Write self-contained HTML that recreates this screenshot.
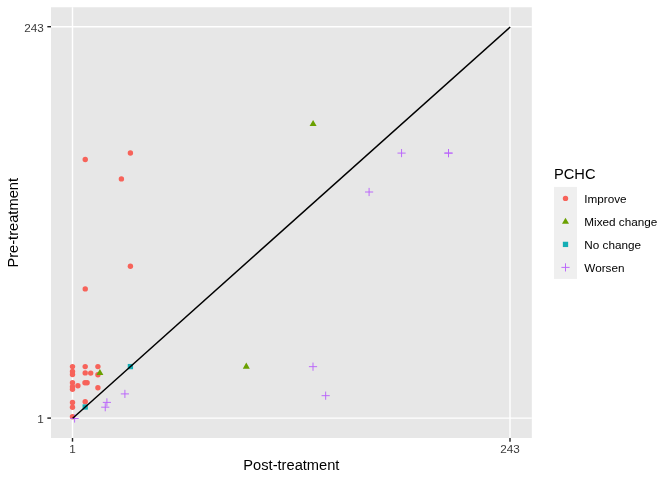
<!DOCTYPE html>
<html lang="en"><head><meta charset="utf-8"><title>Pre- vs Post-treatment</title>
<style>html,body{margin:0;padding:0;background:#fff}body{width:672px;height:480px;overflow:hidden}svg{display:block}text{font-family:"Liberation Sans",sans-serif}</style></head><body>
<svg width="672" height="480" viewBox="0 0 672 480">
<rect width="672" height="480" fill="#fff"/>
<rect x="51.0" y="7.25" width="480.80" height="430.75" fill="#E7E7E7"/>
<g stroke="#fff" stroke-width="1.42">
<line x1="51.0" x2="531.8" y1="418.1" y2="418.1"/><line x1="51.0" x2="531.8" y1="26.7" y2="26.7"/>
<line y1="7.25" y2="438.0" x1="72.5" x2="72.5"/><line y1="7.25" y2="438.0" x1="510.0" x2="510.0"/></g>
<g>
<circle cx="72.5" cy="366.6" r="2.7" fill="#F7635A"/>
<circle cx="72.5" cy="371.4" r="2.7" fill="#F7635A"/>
<circle cx="72.5" cy="374.5" r="2.7" fill="#F7635A"/>
<circle cx="72.5" cy="382.7" r="2.7" fill="#F7635A"/>
<circle cx="72.5" cy="386.8" r="2.7" fill="#F7635A"/>
<circle cx="72.5" cy="389.3" r="2.7" fill="#F7635A"/>
<circle cx="72.5" cy="402.4" r="2.7" fill="#F7635A"/>
<circle cx="72.5" cy="407.25" r="2.7" fill="#F7635A"/>
<circle cx="72.5" cy="416.7" r="2.7" fill="#F7635A"/>
<circle cx="85.2" cy="366.6" r="2.7" fill="#F7635A"/>
<circle cx="85.2" cy="372.9" r="2.7" fill="#F7635A"/>
<circle cx="85.0" cy="382.7" r="2.7" fill="#F7635A"/>
<circle cx="87.1" cy="382.8" r="2.7" fill="#F7635A"/>
<circle cx="85.2" cy="401.8" r="2.7" fill="#F7635A"/>
<circle cx="90.7" cy="373.1" r="2.7" fill="#F7635A"/>
<circle cx="77.9" cy="385.8" r="2.7" fill="#F7635A"/>
<circle cx="97.9" cy="366.6" r="2.7" fill="#F7635A"/>
<circle cx="97.9" cy="374.75" r="2.7" fill="#F7635A"/>
<circle cx="97.9" cy="387.7" r="2.7" fill="#F7635A"/>
<circle cx="85.25" cy="159.5" r="2.7" fill="#F7635A"/>
<circle cx="130.4" cy="153.0" r="2.7" fill="#F7635A"/>
<circle cx="121.4" cy="178.9" r="2.7" fill="#F7635A"/>
<circle cx="85.25" cy="288.9" r="2.7" fill="#F7635A"/>
<circle cx="130.4" cy="266.25" r="2.7" fill="#F7635A"/>
<polygon points="99.90,368.92 103.41,375.00 96.39,375.00" fill="#6AA000"/>
<polygon points="313.10,119.95 316.61,126.03 309.59,126.03" fill="#6AA000"/>
<polygon points="246.30,362.55 249.81,368.63 242.79,368.63" fill="#6AA000"/>
<rect x="82.55" y="404.35" width="5.3" height="5.3" fill="#14AEB5"/>
<rect x="127.75" y="363.95" width="5.3" height="5.3" fill="#14AEB5"/>
<path d="M70.91 418.50H78.29M74.60 414.81V422.19" stroke="#B964FB" stroke-width="0.95" stroke-linecap="round" fill="none"/>
<path d="M103.21 402.40H110.59M106.90 398.71V406.09" stroke="#B964FB" stroke-width="0.95" stroke-linecap="round" fill="none"/>
<path d="M101.56 407.20H108.94M105.25 403.51V410.89" stroke="#B964FB" stroke-width="0.95" stroke-linecap="round" fill="none"/>
<path d="M121.21 393.90H128.59M124.90 390.21V397.59" stroke="#B964FB" stroke-width="0.95" stroke-linecap="round" fill="none"/>
<path d="M309.31 366.67H316.69M313.00 362.98V370.36" stroke="#B964FB" stroke-width="0.95" stroke-linecap="round" fill="none"/>
<path d="M321.98 395.67H329.36M325.67 391.98V399.36" stroke="#B964FB" stroke-width="0.95" stroke-linecap="round" fill="none"/>
<path d="M365.41 192.00H372.79M369.10 188.31V195.69" stroke="#B964FB" stroke-width="0.95" stroke-linecap="round" fill="none"/>
<path d="M397.87 153.10H405.25M401.56 149.41V156.79" stroke="#B964FB" stroke-width="0.95" stroke-linecap="round" fill="none"/>
<path d="M444.81 153.10H452.19M448.50 149.41V156.79" stroke="#B964FB" stroke-width="0.95" stroke-linecap="round" fill="none"/>
<path d="M444.81 153.10H452.19M448.50 149.41V156.79" stroke="#B964FB" stroke-width="0.95" stroke-linecap="round" fill="none"/>
</g>
<line x1="72.7" y1="418.20000000000005" x2="510.2" y2="26.95" stroke="#000" stroke-width="1.5"/>
<g stroke="#242424" stroke-width="1.42">
<line x1="47.33" x2="51.0" y1="418.1" y2="418.1"/><line x1="47.33" x2="51.0" y1="26.7" y2="26.7"/>
<line y1="438.0" y2="441.67" x1="72.5" x2="72.5"/><line y1="438.0" y2="441.67" x1="510.0" x2="510.0"/></g>
<g font-size="11.73" fill="#3B3B3B">
<text x="43.7" y="31.60" text-anchor="end">243</text>
<text x="43.7" y="422.70" text-anchor="end">1</text>
<text x="72.5" y="452.7" text-anchor="middle">1</text>
<text x="510.0" y="452.7" text-anchor="middle">243</text>
</g>
<g font-size="14.67" fill="#000">
<text x="291.4" y="469.5" text-anchor="middle">Post-treatment</text>
<text transform="translate(17.8 222.8) rotate(-90)" text-anchor="middle">Pre-treatment</text>
<text x="554.0" y="179">PCHC</text>
</g>
<rect x="554.0" y="186.9" width="23.0" height="92.0" fill="#EFEFEF"/>
<circle cx="565.5" cy="198.4" r="2.7" fill="#F7635A"/>
<polygon points="565.50,217.65 569.01,223.73 561.99,223.73" fill="#6AA000"/>
<rect x="562.85" y="241.75" width="5.3" height="5.3" fill="#14AEB5"/>
<path d="M561.81 267.40H569.19M565.50 263.71V271.09" stroke="#B964FB" stroke-width="0.95" stroke-linecap="round" fill="none"/>
<g font-size="11.73" fill="#000">
<text x="584.3" y="202.60">Improve</text>
<text x="584.3" y="225.60">Mixed change</text>
<text x="584.3" y="248.60">No change</text>
<text x="584.3" y="271.60">Worsen</text>
</g>
</svg></body></html>
